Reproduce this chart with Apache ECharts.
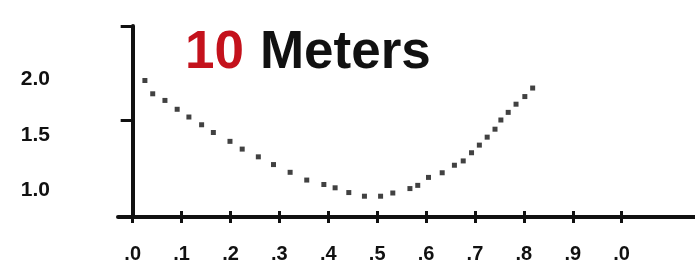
<!DOCTYPE html>
<html>
<head>
<meta charset="utf-8">
<script src="https://cdn.jsdelivr.net/npm/echarts@6/dist/echarts.min.js"></script>
<style>
  html, body { margin: 0; padding: 0; background: #fff; }
  #main { width: 695px; height: 264px; }
</style>
</head>
<body>
<div id="main"></div>
<script>
// points (x = position, y = value)
const xs = [0.025, 0.041, 0.066, 0.091, 0.115, 0.141, 0.165, 0.199, 0.224, 0.257,
  0.288, 0.322, 0.356, 0.391, 0.414, 0.442, 0.474, 0.507, 0.532, 0.567,
  0.583, 0.605, 0.633, 0.658, 0.676, 0.693, 0.709, 0.725, 0.741, 0.753,
  0.768, 0.784, 0.802, 0.818]
const ys = [1.99, 1.87, 1.81, 1.73, 1.66, 1.59, 1.52, 1.44, 1.37, 1.30,
  1.23, 1.16, 1.09, 1.05, 1.02, 0.977, 0.944, 0.944, 0.973, 1.013,
  1.042, 1.114, 1.156, 1.224, 1.263, 1.337, 1.406, 1.478, 1.55, 1.633,
  1.702, 1.776, 1.845, 1.922]
const xTicks = [0, 0.1, 0.2, 0.3, 0.4, 0.5, 0.6, 0.7, 0.8, 0.9, 1.0]
const yLabels = [1.0, 1.5, 2.0]
const yTicks = [1.633, 2.483]

const points = xs.map((x, i) => [x, ys[i]])
const font = '"Liberation Sans", Arial, sans-serif'

const myChart = echarts.init(document.getElementById('main'))
const option = {
  animation: false,
  title: {
    text: '{r|10}{b|Meters}',
    left: 185,
    top: 27,
    padding: 0,
    textStyle: {
      rich: {
        r: { fontSize: 53, fontWeight: 'bold', color: '#c4121c', fontFamily: font, lineHeight: 53, padding: [0, 16, 0, 0] },
        b: { fontSize: 53, fontWeight: 'bold', color: '#111', fontFamily: font, lineHeight: 53 }
      }
    }
  },
  grid: { left: 118, right: 0, top: 26, bottom: 45 },
  xAxis: [{
    type: 'value',
    min: -0.03,
    max: 1.15,
    splitLine: { show: false },
    axisLine: { lineStyle: { color: '#111', width: 4 } },
    axisTick: { customValues: xTicks, length: 6, lineStyle: { color: '#111', width: 3 } },
    axisLabel: {
      customValues: xTicks,
      margin: 27,
      fontSize: 20,
      fontWeight: 'bold',
      color: '#111',
      fontFamily: font,
      formatter: (v) => '.' + (Math.round(v * 10) % 10)
    }
  }, {
    // inner half of the cross ticks
    type: 'value',
    position: 'bottom',
    min: -0.03,
    max: 1.15,
    splitLine: { show: false },
    axisLine: { show: false },
    axisTick: { inside: true, customValues: xTicks, length: 6, lineStyle: { color: '#111', width: 3 } },
    axisLabel: { show: false }
  }],
  yAxis: {
    type: 'value',
    min: 0.756,
    max: 2.483,
    splitLine: { show: false },
    axisLine: { onZero: true, lineStyle: { color: '#111', width: 4 } },
    axisTick: { customValues: yTicks, length: 12, lineStyle: { color: '#111', width: 3 } },
    axisLabel: {
      customValues: yLabels,
      margin: 68,
      fontSize: 21,
      fontWeight: 'bold',
      color: '#111',
      fontFamily: font,
      formatter: (v) => v.toFixed(1)
    }
  },
  series: [{
    type: 'scatter',
    data: points,
    symbol: 'rect',
    symbolSize: 5,
    itemStyle: { color: '#111' }
  }]
}
myChart.setOption(option, true)
</script>
</body>
</html>
